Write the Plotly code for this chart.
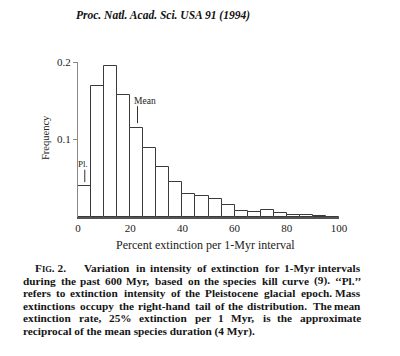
import plotly.graph_objects as go

# Data: 5%-wide bins of percent extinction per 1-Myr interval
bin_left = [0, 5, 10, 15, 20, 25, 30, 35, 40, 45, 50, 55, 60, 65, 70, 75, 80, 85, 90, 95]
frequency = [0.040, 0.169, 0.195, 0.157, 0.115, 0.089, 0.0645, 0.0456, 0.030, 0.027,
             0.023, 0.0155, 0.0077, 0.0068, 0.0085, 0.0055, 0.0022, 0.0020, 0.0013, 0.0005]
bin_width = 5
x_ticks = [0, 20, 40, 60, 80, 100]
y_ticks = [0.1, 0.2]
y_ticklabels = ["0.1", "0.2"]

pl_label = "Pl."
pl_x = 2.6
pl_line = (0.045, 0.061)
mean_label = "Mean"
mean_x = 22.8
mean_line = (0.121, 0.143)

title_text = "Proc. Natl. Acad. Sci. USA 91 (1994)"
xlabel = "Percent extinction per 1-Myr interval"
ylabel = "Frequency"
caption_head = "F<span style='font-size:8.5px'>IG</span>. 2."
caption_lines = [
    "Variation in intensity of extinction for 1-Myr intervals",
    "during the past 600 Myr, based on the species kill curve (9). ‘‘Pl.’’",
    "refers to extinction intensity of the Pleistocene glacial epoch. Mass",
    "extinctions occupy the right-hand tail of the distribution. The mean",
    "extinction rate, 25% extinction per 1 Myr, is the approximate",
    "reciprocal of the mean species duration (4 Myr).",
]

# The page body has an 8px margin, so the figure is drawn 8px smaller and
# every pixel position below is given in window coordinates.
OFF = 8
W, H = 400 - OFF, 356 - OFF
L, R, T, B = 78, 339, 62, 217  # plot area in window pixels


def px(x):
    return (x - L) / (R - L)


def py(y):
    return (B - y) / (B - T)


serif = "Liberation Serif"
centers = [b + bin_width / 2 for b in bin_left]

fig = go.Figure(go.Bar(
    x=centers, y=frequency, width=[bin_width] * len(centers),
    marker=dict(color="white", line=dict(color="#3a3a3a", width=1)),
    showlegend=False,
))

anns = []
anns.append(dict(text=f"<b><i>{title_text}</i></b>", x=px(163), y=py(15), xref="paper", yref="paper",
                 showarrow=False, font=dict(family=serif, size=11.5, color="#111"), xanchor="center", yanchor="middle"))
anns.append(dict(text=xlabel, x=px(205), y=py(245), xref="paper", yref="paper", showarrow=False,
                 font=dict(family=serif, size=12, color="#222"), xanchor="center", yanchor="middle"))
anns.append(dict(text=ylabel, x=px(45), y=py(138), xref="paper", yref="paper", showarrow=False, textangle=-90,
                 font=dict(family=serif, size=10.5, color="#222"), xanchor="center", yanchor="middle"))
anns.append(dict(text=pl_label, x=2.0, y=0.068, xref="x", yref="y", showarrow=False,
                 font=dict(family=serif, size=9, color="#222"), xanchor="center", yanchor="middle"))
anns.append(dict(text=mean_label, x=25.5, y=0.150, xref="x", yref="y", showarrow=False,
                 font=dict(family=serif, size=9.5, color="#222"), xanchor="center", yanchor="middle"))

# --- justified caption (word positions from Times-Bold advance widths) ---
ADV = dict(zip("abcdefghijklmnopqrstuvwxyz",
               [500, 556, 444, 556, 444, 333, 500, 556, 278, 333, 556, 278, 833,
                556, 500, 556, 556, 444, 389, 333, 556, 500, 722, 500, 500, 444]))
ADV.update(dict(zip("ABCDEFGHIJKLMNOPQRSTUVWXYZ",
                    [722, 667, 722, 722, 667, 611, 778, 778, 389, 500, 778, 667, 944,
                     722, 778, 611, 778, 722, 556, 667, 722, 722, 1000, 722, 722, 667])))
ADV.update({c: 500 for c in "0123456789"})
ADV.update({" ": 250, ".": 250, ",": 250, "-": 333, "(": 333, ")": 333, "%": 1000,
            "‘": 333, "’": 333})

CAP_SIZE = 11.3
CAP_FONT = dict(family=serif, size=CAP_SIZE, color="#151515")


def word_w(s):
    return sum(ADV.get(c, 500) for c in s) / 1000 * CAP_SIZE * 1.03


def cap_ann(text, xpix, ypix, anchor="left"):
    return dict(text=f"<b>{text}</b>", x=px(xpix), y=py(ypix), xref="paper", yref="paper",
                showarrow=False, font=CAP_FONT, xanchor=anchor, yanchor="middle", borderpad=0)


cap_y0, cap_dy = 268, 12.6
cap_left, cap_right = 22, 362
head_x, line1_x = 34, 83

anns.append(cap_ann(caption_head, head_x, cap_y0))
for i, line in enumerate(caption_lines):
    ypix = cap_y0 + i * cap_dy
    x0 = line1_x if i == 0 else cap_left
    if i == len(caption_lines) - 1:
        anns.append(cap_ann(line, x0, ypix))
        continue
    words = line.split(" ")
    widths = [word_w(w) for w in words]
    gap = (cap_right - x0 - sum(widths)) / (len(words) - 1)
    x = x0
    for j, (w, ww) in enumerate(zip(words, widths)):
        if j == len(words) - 1:
            anns.append(cap_ann(w, cap_right, ypix, "right"))
        else:
            anns.append(cap_ann(w, x, ypix))
        x += ww + gap

shapes = [
    dict(type="line", x0=pl_x, x1=pl_x, y0=pl_line[0], y1=pl_line[1], xref="x", yref="y",
         line=dict(color="#333", width=1)),
    dict(type="line", x0=mean_x, x1=mean_x, y0=mean_line[0], y1=mean_line[1], xref="x", yref="y",
         line=dict(color="#333", width=1)),
]

fig.update_layout(
    width=W, height=H,
    margin=dict(l=L - OFF, r=400 - R, t=T - OFF, b=356 - B, pad=0),
    paper_bgcolor="white", plot_bgcolor="white",
    bargap=0,
    annotations=anns, shapes=shapes,
    xaxis=dict(range=[0, 100], tickvals=x_ticks, showline=True, linecolor="#555", linewidth=2,
               ticks="", showgrid=False, zeroline=False,
               tickfont=dict(family=serif, size=11, color="#222")),
    yaxis=dict(range=[0, 0.2], tickvals=y_ticks, ticktext=y_ticklabels, showline=True,
               linecolor="#888", linewidth=1, ticks="outside", ticklen=4, tickcolor="#888",
               showgrid=False, zeroline=False,
               tickfont=dict(family=serif, size=11, color="#222")),
)

fig.write_html("out.html")
